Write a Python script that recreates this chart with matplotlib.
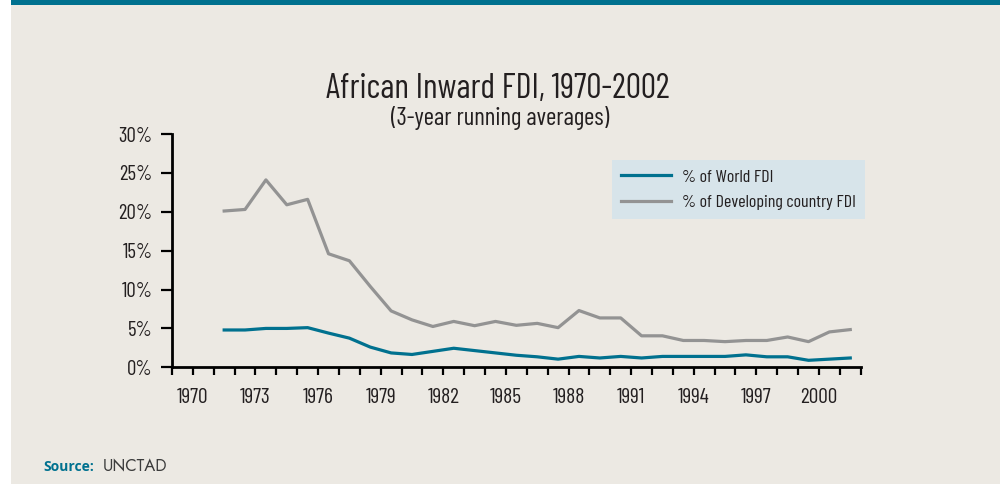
import matplotlib
matplotlib.use("Agg")
import matplotlib.pyplot as plt

# ---- data (3-year running averages, % share) ----
years = list(range(1971, 2002))
world_fdi = [4.8, 4.8, 5.0, 5.0, 5.1, 4.4, 3.75, 2.6, 1.85, 1.65, 2.05, 2.45, 2.15, 1.85,
             1.55, 1.35, 1.05, 1.4, 1.2, 1.4, 1.2, 1.4, 1.4, 1.4, 1.4, 1.6, 1.35,
             1.35, 0.9, 1.05, 1.2]
developing_fdi = [20.1, 20.3, 24.1, 20.9, 21.6, 14.6, 13.7, 10.4, 7.25, 6.1, 5.25, 5.9, 5.35, 5.9,
                  5.4, 5.65, 5.1, 7.3, 6.35, 6.35, 4.05, 4.05, 3.45, 3.45, 3.3, 3.45, 3.45,
                  3.9, 3.3, 4.55, 4.85]
tick_years = list(range(1970, 2001, 3))
y_ticks = [0, 5, 10, 15, 20, 25, 30]

TEAL = "#00718F"
GREY = "#939393"
BG = "#ECE9E3"
INK = "#231F20"

plt.rcParams["font.family"] = ["Barlow Condensed", "Archivo Narrow", "DejaVu Sans"]

fig = plt.figure(figsize=(10, 4.84), dpi=100)
fig.patch.set_facecolor(BG)

# page decoration: white strip on the left, teal rule on top
fig.patches.append(plt.Rectangle((0, 0), 0.011, 1, transform=fig.transFigure,
                                 facecolor="white", edgecolor="none", zorder=0))
fig.patches.append(plt.Rectangle((0.011, 1 - 5 / 484), 1, 5 / 484, transform=fig.transFigure,
                                 facecolor=TEAL, edgecolor="none", zorder=0))

ax = fig.add_axes([0.172, 0.2411, 0.6887, 0.482])
ax.set_facecolor(BG)

# points sit mid-way between the yearly ticks
xs = [y + 0.5 for y in years]
ax.plot(xs, world_fdi, color=TEAL, lw=2.3, label="% of World FDI", solid_joinstyle="round")
ax.plot(xs, developing_fdi, color=GREY, lw=2.3, label="% of Developing country FDI",
        solid_joinstyle="round")

ax.set_xlim(1969, 2002)
ax.set_ylim(0, 30)
ax.set_xticks(range(1969, 2003))
ax.set_xticklabels([str(y) if y in tick_years else "" for y in range(1969, 2003)])
ax.set_yticks(y_ticks)
ax.set_yticklabels([f"{v}%" for v in y_ticks])

for s in ("top", "right"):
    ax.spines[s].set_visible(False)
for s in ("left", "bottom"):
    ax.spines[s].set_linewidth(2)
    ax.spines[s].set_color("black")
ax.tick_params(axis="both", direction="out", width=1.6, length=6, color="black",
               labelsize=15.5, labelcolor=INK)
ax.tick_params(axis="x", pad=9)
ax.tick_params(axis="y", pad=6, length=8, labelsize=15)

leg = ax.legend(loc="upper left", bbox_to_anchor=(0.639, 0.889), borderaxespad=0,
                fontsize=13, frameon=True, fancybox=False, facecolor="#D7E4EA",
                edgecolor="none", framealpha=1, handlelength=2.75, handletextpad=0.6,
                borderpad=0.5, labelspacing=0.55)
for t in leg.get_texts():
    t.set_color(INK)

fig.text(0.498, 0.817, "African Inward FDI, 1970-2002", ha="center", va="center",
         fontsize=24.5, color=INK)
fig.text(0.5, 0.757, "(3-year running averages)", ha="center", va="center",
         fontsize=18, color=INK)

fig.text(0.043, 0.026, "Source:", ha="left", va="baseline", fontsize=10,
         fontweight="bold", color=TEAL, family=["Open Sans", "DejaVu Sans"])
fig.text(0.103, 0.026, "UNCTAD", ha="left", va="baseline", fontsize=12,
         color="#3C3C3C", fontweight="light", family=["Jost", "Lato", "DejaVu Sans"])

fig.savefig("out.png", dpi=100, facecolor=BG)
